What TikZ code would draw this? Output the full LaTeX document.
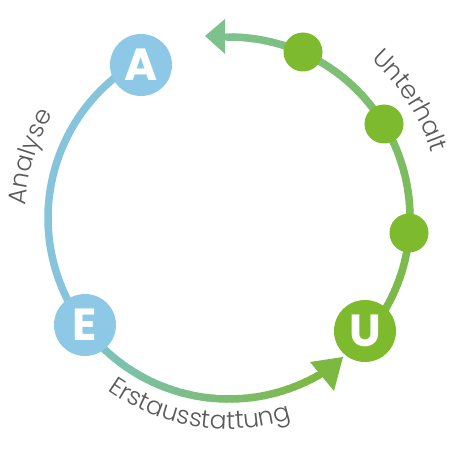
\documentclass[tikz,border=0pt]{standalone}
\usepackage{fontspec}
\setmainfont{Poppins}
\newfontfamily\lightfont{Poppins Light}
\usetikzlibrary{calc,decorations.text}
\definecolor{nodeblue}{HTML}{8DC9E6}
\definecolor{arcblue}{HTML}{86C4DC}
\definecolor{arcteal}{HTML}{7CC3C9}
\definecolor{nodegreen}{HTML}{7EBA2D}
\definecolor{arcgreen}{HTML}{7CB940}
\definecolor{arcmint}{HTML}{7DC18C}
\definecolor{textgray}{HTML}{5A5A5A}
\newcommand\lblfont{\lightfont\fontsize{25}{25}\selectfont}
\tikzset{
  letternode/.style={circle, minimum size=62pt, inner sep=0pt, text=white,
    font=\bfseries\fontsize{45}{45}\selectfont},
  dotnode/.style={circle, fill=nodegreen, minimum size=39pt, inner sep=0pt},
  ring/.style={line width=7.5pt, line cap=round},
}
\begin{document}
\begin{tikzpicture}[x=1pt,y=1pt]
\useasboundingbox (0,0) rectangle (459,459);
\coordinate (C) at (229,241);
\def\R{181}
% blue arc (Analyse)
\draw[ring, arcblue] ($(C)+(120:\R)$) arc (120:217:\R);
% bottom gradient arc (Erstausstattung)
\foreach \i in {0,...,41}{
  \pgfmathsetmacro\a{217+2*\i}
  \pgfmathsetmacro\b{min(\a+2.2,300.5)}
  \pgfmathsetmacro\p{100*\i/41}
  \draw[ring, arcgreen!\p!arcteal] ($(C)+(\a:\R)$) arc (\a:\b:\R);
}
% right gradient arc (Unterhalt)
\foreach \i in {0,...,64}{
  \pgfmathsetmacro\a{-39.5+2*\i}
  \pgfmathsetmacro\b{min(\a+2.2,91.3)}
  \pgfmathsetmacro\p{100*\i/64}
  \draw[ring, arcmint!\p!arcgreen] ($(C)+(\a:\R)$) arc (\a:\b:\R);
}
% arrowheads
\coordinate (t1) at (205,423);
\coordinate (t2) at (225,440);
\coordinate (t3) at (225,405);
\fill[arcmint] (t1) -- (t2) -- (t3) -- cycle;
\coordinate (b1) at (343,102);
\coordinate (b2) at (310,97);
\coordinate (b3) at (334,68);
\fill[arcgreen] (b1) -- (b2) -- (b3) -- cycle;
% nodes
\node[letternode, fill=nodeblue] (A) at (141,394) {A};
\node[letternode, fill=nodeblue] (E) at (85,134) {E};
\node[letternode, fill=nodegreen] (U) at (365,128) {U};
\node[dotnode] (d1) at (303,407) {};
\node[dotnode] (d2) at (384,335) {};
\node[dotnode] (d3) at (409,226) {};
% labels along the ring
\path[decorate, decoration={text along path, text align=center,
  text color=textgray, text={|\lblfont|Unterhalt}}]
  ($(C)+(65:213)$) arc (65:1:213);
\path[decorate, decoration={text along path, text align=center,
  text color=textgray, text={|\lblfont|Analyse}}]
  ($(C)+(195:204)$) arc (195:131:204);
\path[decorate, decoration={text along path, text align=center,
  text color=textgray, text={|\lblfont|Erstausstattung}}]
  ($(C)+(229:211)$) arc (229:293:211);
\end{tikzpicture}
\end{document}
